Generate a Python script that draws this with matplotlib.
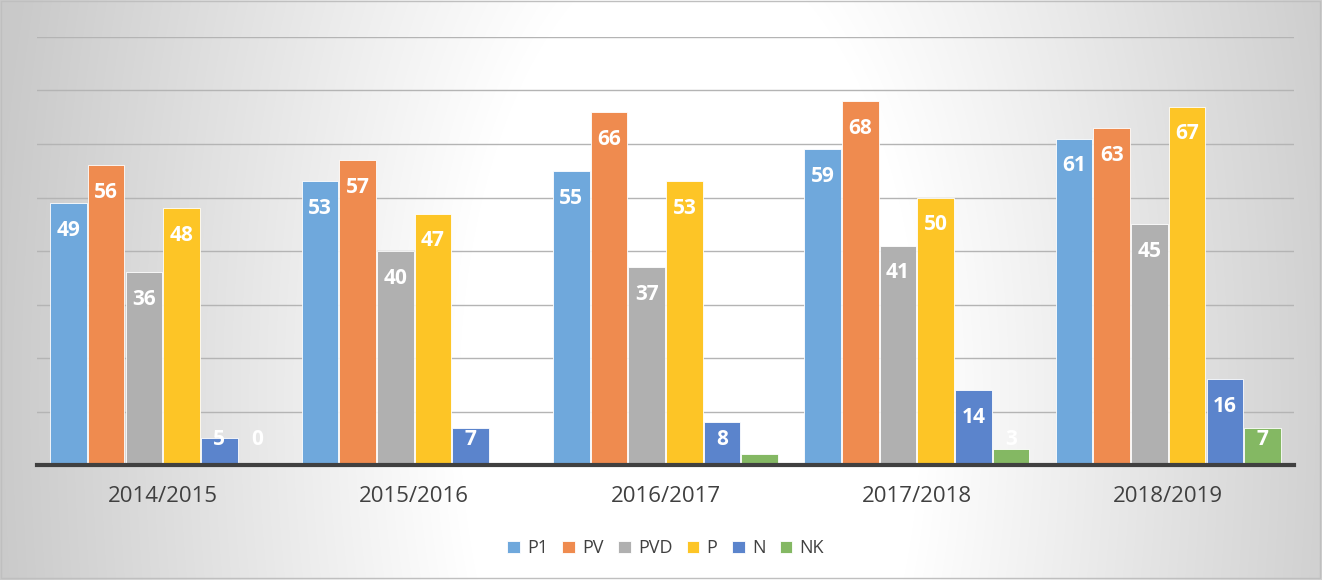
import numpy as np
import matplotlib
matplotlib.use("Agg")
import matplotlib.pyplot as plt
from matplotlib.patches import Rectangle

# data
years = ["2014/2015", "2015/2016", "2016/2017", "2017/2018", "2018/2019"]
series = ["P1", "PV", "PVD", "P", "N", "NK"]
p1 = [49, 53, 55, 59, 61]
pv = [56, 57, 66, 68, 63]
pvd = [36, 40, 37, 41, 45]
p = [48, 47, 53, 50, 67]
n = [5, 7, 8, 14, 16]
nk = [0, 0, 2, 3, 7]
values = [p1, pv, pvd, p, n, nk]
colors = ["#6fa8dc", "#ef8b4f", "#b0b0b0", "#fdc526", "#5b84cc", "#84b863"]

plt.rcParams['font.family'] = ['Open Sans', 'DejaVu Sans']

fig = plt.figure(figsize=(13.22, 5.80), dpi=100)

# radial gradient background
bg = fig.add_axes([0, 0, 1, 1])
W, H = 1322, 580
xx, yy = np.meshgrid(np.arange(W), np.arange(H))
r = np.sqrt(((xx - 690) / 700.0) ** 2 + ((yy - 400) / 1400.0) ** 2)
r0 = 0.33
t = np.clip((r - r0) / (1 - r0), 0, 1)
shade = 1.0 - t * (1.0 - 0.79)
img = np.dstack([shade, shade, shade])
bg.imshow(img, extent=[0, W, H, 0], aspect='auto')
bg.add_patch(Rectangle((1, 1), W - 3, H - 3, fill=False, edgecolor="#bfbfbf", lw=1))
bg.set_xlim(0, W)
bg.set_ylim(H, 0)
bg.axis('off')

ax = fig.add_axes([37 / W, 1 - 465 / H, (1294 - 37) / W, (465 - 37) / H])
ax.patch.set_alpha(0)

x = np.arange(len(years))
width = 0.15
for i, (name, vals, c) in enumerate(zip(series, values, colors)):
    pos = x + (i - 2.5) * width
    ax.bar(pos, vals, width * 0.97, color=c, edgecolor="white", linewidth=0.6, label=name, zorder=3)
    for xp, v in zip(pos, vals):
        ly = max(v - 5.1, 4.7)
        ax.text(xp, ly, str(v), ha='center', va='center', color='white',
                fontsize=15, fontweight='bold', zorder=4)

ax.set_ylim(0, 80)
ax.set_xlim(-0.5, len(years) - 0.5)
ax.set_yticks(np.arange(10, 81, 10))
ax.yaxis.grid(True, color="#b4b4b4", linewidth=1, zorder=0)
ax.set_yticklabels([])
ax.tick_params(axis='y', length=0)
ax.set_xticks(x)
ax.set_xticklabels(years, fontsize=16, color="#404040")
ax.tick_params(axis='x', length=0, pad=15)
for s in ["top", "right", "left"]:
    ax.spines[s].set_visible(False)
ax.spines["bottom"].set_color("#404040")
ax.spines["bottom"].set_linewidth(3)
ax.spines["bottom"].set_zorder(5)

leg = ax.legend(loc='center', bbox_to_anchor=(0.5, -0.195), ncol=6, frameon=False,
                fontsize=13, handlelength=0.7, handleheight=0.7, handletextpad=0.4,
                columnspacing=0.8, labelcolor="#404040")

fig.savefig("out.png", dpi=100)
